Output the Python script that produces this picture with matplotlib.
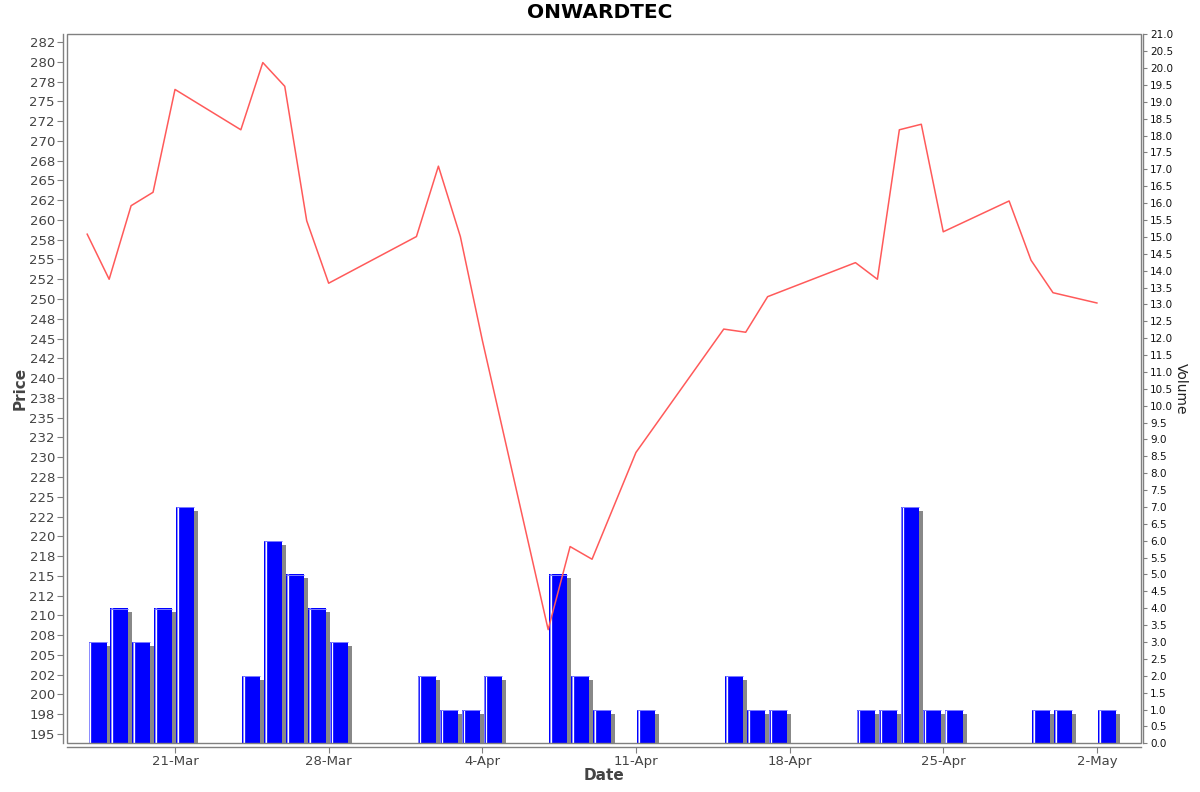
import matplotlib
matplotlib.use('Agg')
import matplotlib.pyplot as plt
import matplotlib.dates as mdates
from matplotlib.patches import Rectangle
import numpy as np

title = "ONWARDTEC"
dates = ["2025-03-17", "2025-03-18", "2025-03-19", "2025-03-20", "2025-03-21",
         "2025-03-24", "2025-03-25", "2025-03-26", "2025-03-27", "2025-03-28",
         "2025-04-01", "2025-04-02", "2025-04-03", "2025-04-04",
         "2025-04-07", "2025-04-08", "2025-04-09", "2025-04-11",
         "2025-04-15", "2025-04-16", "2025-04-17",
         "2025-04-21", "2025-04-22", "2025-04-23", "2025-04-24", "2025-04-25",
         "2025-04-28", "2025-04-29", "2025-04-30", "2025-05-02"]
prices = [258.2, 252.5, 261.8, 263.5, 276.5,
          271.4, 279.9, 276.9, 259.9, 252.0,
          257.9, 266.8, 257.9, 244.8,
          208.2, 218.7, 217.1, 230.6,
          246.2, 245.8, 250.3,
          254.6, 252.5, 271.4, 272.1, 258.5,
          262.4, 254.9, 250.8, 249.5]
volumes = [3, 4, 3, 4, 7,
           2, 6, 5, 4, 3,
           2, 1, 1, 2,
           5, 2, 1, 1,
           2, 1, 1,
           1, 1, 7, 1, 1,
           0, 1, 1, 1]

price_ticks = [195.0, 197.5, 200.0, 202.5, 205.0, 207.5, 210.0, 212.5, 215.0, 217.5,
               220.0, 222.5, 225.0, 227.5, 230.0, 232.5, 235.0, 237.5, 240.0, 242.5,
               245.0, 247.5, 250.0, 252.5, 255.0, 257.5, 260.0, 262.5, 265.0, 267.5,
               270.0, 272.5, 275.0, 277.5, 280.0, 282.5]
price_tick_labels = ["195", "198", "200", "202", "205", "208", "210", "212", "215", "218",
                     "220", "222", "225", "228", "230", "232", "235", "238", "240", "242",
                     "245", "248", "250", "252", "255", "258", "260", "262", "265", "268",
                     "270", "272", "275", "278", "280", "282"]
x_tick_dates = ["2025-03-21", "2025-03-28", "2025-04-04", "2025-04-11",
                "2025-04-18", "2025-04-25", "2025-05-02"]
x_tick_labels = ["21-Mar", "28-Mar", "4-Apr", "11-Apr", "18-Apr", "25-Apr", "2-May"]

# ---------------------------------------------------------------
W, H = 1200, 792
fig = plt.figure(figsize=(W / 100, H / 100), dpi=100)
L, R, T, B = 67, 1141, 34.3, 743.3
ax1 = fig.add_axes([L / W, 1 - B / H, (R - L) / W, (B - T) / H])
ax2 = ax1.twinx()
ax1.set_zorder(2)
ax2.set_zorder(1)
ax1.patch.set_visible(False)

xd = mdates.datestr2num(dates)
ref = mdates.datestr2num("2025-03-21")
px_per_day = 21.95
xmin = ref - (175 - L) / px_per_day
xmax = ref + (R - 175) / px_per_day
ax1.set_xlim(xmin, xmax)

grey = '#808080'
px = 72 / 100  # points per pixel

# Volume bars
vol_lo, vol_hi = 0.0, 21.0
ax2.set_ylim(vol_lo, vol_hi)
px_per_vol = (B - T) / (vol_hi - vol_lo)
bar_off = 0.06
bar_w = 0.82
sh_dx = 4 / px_per_day
sh_dy = 4 / px_per_vol
left = xd + bar_off
vols = np.array(volumes, dtype=float)
mask = vols > 0
ax2.bar(left[mask] + sh_dx, np.clip(vols[mask] - sh_dy, 0, None), width=bar_w,
        align='edge', color='#888888', edgecolor='none', zorder=1)
ax2.bar(left[mask], vols[mask], width=bar_w, align='edge', color='#0000ff',
        edgecolor='none', zorder=2)
ax2.vlines(left[mask] + 0.5 / px_per_day, 0, vols[mask], color='#7a7aff',
           lw=1.0 * px, zorder=3)
ax2.vlines(left[mask] + 1.9 / px_per_day, 0, vols[mask], color='#ffffff',
           lw=1.3 * px, zorder=3)
ax2.hlines(vols[mask] - 0.3 / px_per_vol, left[mask], left[mask] + bar_w,
           color='#7a7aff', lw=1.0 * px, zorder=3)

# Price line
ax1.plot(xd, prices, color='#ff5a5a', lw=1.1, zorder=5)
p_top = 282.5 + (42 - T) / 7.909
p_bot = 195.0 - (B - 734) / 7.909
ax1.set_ylim(p_bot, p_top)

# Ticks
ax1.set_yticks(price_ticks)
ax1.set_yticklabels(price_tick_labels)
ax1.set_xticks(mdates.datestr2num(x_tick_dates))
ax1.set_xticklabels(x_tick_labels)
vol_ticks = np.arange(0, 21.01, 0.5)
ax2.set_yticks(vol_ticks)
ax2.set_yticklabels([f"{v:.1f}" for v in vol_ticks])

ax1.tick_params(axis='y', direction='out', length=4, width=0.8,
                color=grey, labelcolor='#444444', labelsize=9.5, pad=2)
ax1.tick_params(axis='x', direction='out', length=4, width=0.8, color=grey,
                labelcolor='#444444', labelsize=9.5, pad=2)
ax2.tick_params(axis='y', direction='out', length=3, width=0.8, color=grey,
                labelcolor='#111111', labelsize=7.5, pad=2)

# Spines
for ax in (ax1, ax2):
    for s in ax.spines.values():
        s.set_visible(False)
ax1.spines['left'].set_visible(True)
ax1.spines['left'].set_position(('outward', 3.7 * px))
ax1.spines['left'].set_color(grey)
ax1.spines['bottom'].set_visible(True)
ax1.spines['bottom'].set_position(('outward', 3.6 * px))
ax1.spines['bottom'].set_color(grey)
ax2.spines['right'].set_visible(True)
ax2.spines['right'].set_position(('outward', 2 * px))
ax2.spines['right'].set_color(grey)
for s in (ax1.spines['left'], ax1.spines['bottom'], ax2.spines['right']):
    s.set_linewidth(1.0)

frame = Rectangle((0, 0), 1, 1, transform=ax1.transAxes, fill=False,
                  edgecolor=grey, lw=1.0, clip_on=False, zorder=10)
ax1.add_patch(frame)

# Labels
ax1.set_ylabel("Price", fontsize=11, color='#444444', fontweight='bold')
ax1.yaxis.set_label_coords((20 - L) / (R - L), 0.5)
ax1.yaxis.label.set_verticalalignment('center')
ax1.yaxis.label.set_horizontalalignment('center')
ax2.set_ylabel("Volume", fontsize=10, color='#222222', rotation=270)
ax2.yaxis.set_label_coords((1181 - L) / (R - L), 0.5)
ax2.yaxis.label.set_verticalalignment('center')
ax2.yaxis.label.set_horizontalalignment('center')
ax1.set_xlabel("Date", fontsize=11, color='#444444', fontweight='bold')
ax1.xaxis.set_label_coords(0.5, (B - 776) / (B - T))
ax1.xaxis.label.set_verticalalignment('center')

fig.text(0.5, 1 - 13 / H, title, ha='center', va='center', fontsize=14.5,
         fontweight='bold', color='black')

fig.savefig("out.png", dpi=100)
